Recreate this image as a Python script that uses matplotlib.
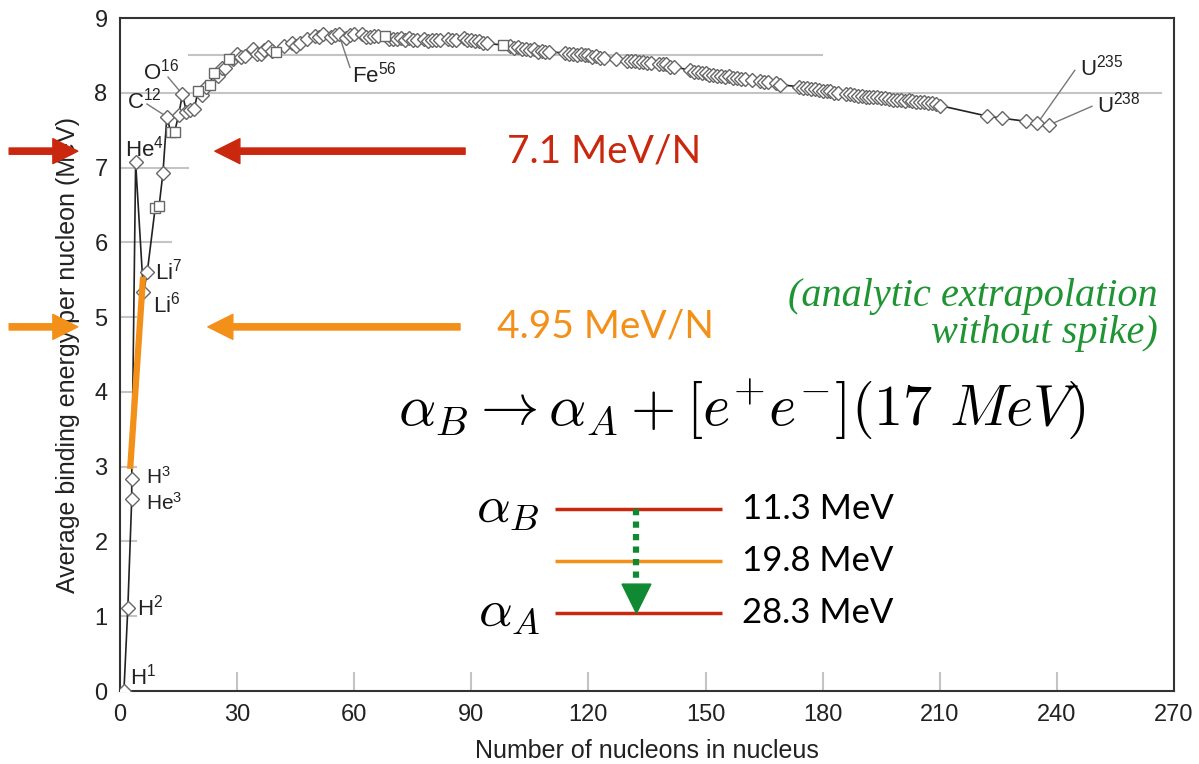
import matplotlib.pyplot as plt
from matplotlib.patches import FancyArrowPatch, Polygon

plt.rcParams['font.family'] = ['Liberation Sans', 'DejaVu Sans']
plt.rcParams['mathtext.fontset'] = 'custom'
plt.rcParams['mathtext.rm'] = 'Liberation Sans'
plt.rcParams['mathtext.it'] = 'Liberation Sans:italic'

# nucleon number A and binding energy per nucleon (MeV)
A = [1, 2, 3, 3, 4, 6, 7, 9, 10, 11, 12, 13, 14, 15, 16, 17, 18, 19, 20, 21,
     22, 23, 24, 25, 26, 27, 28, 29, 30, 31, 32, 34, 35, 36, 37, 38, 39, 40,
     42, 44, 45, 46, 48, 50, 51, 52, 54, 55, 56, 58, 59, 60, 62, 63, 64, 65,
     66, 68, 69, 70, 71, 72, 73, 74, 75, 76, 78, 79, 80, 81, 82, 84, 85, 86,
     88, 89, 90, 91, 92, 93, 94, 98, 100, 101, 102, 103, 104, 105, 106, 107,
     108, 109, 110, 114, 115, 116, 117, 118, 119, 120, 121, 122, 123, 124,
     127, 130, 131, 132, 133, 134, 135, 136, 138, 139, 140, 141, 142, 146,
     147, 148, 149, 150, 151, 152, 153, 154, 155, 156, 157, 158, 159, 160,
     162, 164, 165, 166, 168, 169, 174, 175, 176, 177, 178, 179, 180, 181,
     182, 183, 184, 186, 187, 188, 189, 190, 191, 192, 193, 194, 195, 196,
     197, 198, 199, 200, 201, 202, 203, 204, 205, 206, 207, 208, 209, 210,
     222, 226, 232, 235, 238]
BE = [0.00, 1.11, 2.57, 2.83, 7.07, 5.33, 5.61, 6.46, 6.48, 6.93, 7.68, 7.47,
      7.48, 7.70, 7.98, 7.75, 7.77, 7.78, 8.03, 7.97, 8.08, 8.11, 8.26, 8.22,
      8.33, 8.33, 8.45, 8.45, 8.52, 8.48, 8.49, 8.58, 8.52, 8.52, 8.57, 8.61,
      8.56, 8.55, 8.62, 8.66, 8.62, 8.66, 8.72, 8.76, 8.74, 8.78, 8.74, 8.77,
      8.79, 8.73, 8.77, 8.78, 8.79, 8.75, 8.74, 8.76, 8.76, 8.76, 8.72, 8.72,
      8.72, 8.73, 8.71, 8.73, 8.70, 8.71, 8.72, 8.69, 8.71, 8.70, 8.71, 8.72,
      8.70, 8.71, 8.73, 8.71, 8.71, 8.69, 8.69, 8.66, 8.66, 8.64, 8.62, 8.60,
      8.61, 8.58, 8.58, 8.57, 8.58, 8.55, 8.56, 8.55, 8.55, 8.53, 8.52, 8.52,
      8.51, 8.52, 8.50, 8.50, 8.48, 8.49, 8.47, 8.47, 8.45, 8.43, 8.42, 8.43,
      8.41, 8.41, 8.40, 8.40, 8.39, 8.38, 8.38, 8.35, 8.35, 8.30, 8.28, 8.28,
      8.26, 8.26, 8.24, 8.24, 8.23, 8.23, 8.21, 8.22, 8.20, 8.20, 8.19, 8.18,
      8.17, 8.16, 8.15, 8.14, 8.13, 8.11, 8.08, 8.07, 8.06, 8.05, 8.05, 8.04,
      8.03, 8.02, 8.02, 8.00, 8.00, 7.99, 7.98, 7.97, 7.96, 7.96, 7.95, 7.95,
      7.94, 7.94, 7.93, 7.93, 7.92, 7.91, 7.90, 7.90, 7.89, 7.90, 7.89, 7.88,
      7.88, 7.88, 7.87, 7.87, 7.85, 7.83, 7.69, 7.66, 7.62, 7.59, 7.57]
square_A = [9, 10, 13, 14, 20, 23, 24, 28, 40, 68, 98]

level_E = [11.3, 19.8, 28.3]
level_names = [r'$\alpha_B$', '', r'$\alpha_A$']

RED = '#c9280f'
ORANGE = '#f39019'
GREEN = '#0f8a32'

fig = plt.figure(figsize=(11.99, 7.64), dpi=100)
ax = fig.add_axes([0.1001, 0.0955, 0.879, 0.8809])
ax.set_xlim(0, 270)
ax.set_ylim(0, 9)

# partial grey guide lines
grid = '#c4c4c4'
ax.hlines(8.5, 17.4, 180, color=grid, lw=1.5, zorder=1)
ax.hlines(8, 0, 267, color=grid, lw=1.5, zorder=1)
ax.hlines(7, 0, 17.7, color=grid, lw=1.5, zorder=1)
ax.hlines(6, 0, 13.3, color=grid, lw=1.5, zorder=1)
ax.hlines([1, 2, 3, 4, 5], 0, 4.3, color=grid, lw=1.5, zorder=1)
ax.vlines(range(30, 270, 30), 0, 0.25, color=grid, lw=1.5, zorder=1)

for s in ax.spines.values():
    s.set_color('#333333')
    s.set_linewidth(1.5)

ax.set_xticks(range(0, 271, 30))
ax.set_yticks(range(0, 10))
ax.tick_params(length=0, labelsize=17, labelcolor='#222222', pad=9)
ax.set_xlabel('Number of nucleons in nucleus', fontsize=18, color='#222222', labelpad=10)
ax.set_ylabel('Average binding energy per nucleon (MeV)', fontsize=18, color='#222222', labelpad=10)

# curve
ax.plot(A, BE, color='#222222', lw=1.2, zorder=3)
dA = [a for a in A if a not in square_A or a > 100]
dB = [b for a, b in zip(A, BE) if a not in square_A or a > 100]
sA = [a for a in A if a in square_A]
sB = [b for a, b in zip(A, BE) if a in square_A]
ax.plot(dA, dB, ls='none', marker='D', ms=7, mfc='white', mec='#666666', mew=1, zorder=4)
ax.plot(sA, sB, ls='none', marker='s', ms=7.5, mfc='white', mec='#666666', mew=1, zorder=4)

# nuclide labels
lab = dict(fontsize=16, color='#222222', va='center', ha='left', zorder=6)
ax.text(2.6, 0.20, 'H$^{1}$', **lab)
ax.text(4.4, 1.11, 'H$^{2}$', **lab)
ax.text(6.7, 2.86, 'H$^{3}$', fontsize=15, color='#222222', va='center', ha='left', zorder=6)
ax.text(6.7, 2.52, 'He$^{3}$', fontsize=15, color='#222222', va='center', ha='left', zorder=6)
ax.text(1.3, 7.26, 'He$^{4}$', **lab)
ax.text(8.5, 5.17, 'Li$^{6}$', **lab)
ax.text(9.0, 5.61, 'Li$^{7}$', **lab)
lead = dict(color='#777777', lw=1)
ax.text(1.8, 7.90, 'C$^{12}$', **lab)
ax.plot([6.9, 12], [7.85, 7.68], **lead)
ax.text(5.9, 8.28, 'O$^{16}$', **lab)
ax.plot([12.3, 16], [8.21, 7.98], **lead)
ax.text(59.4, 8.24, 'Fe$^{56}$', **lab)
ax.plot([58.9, 56], [8.34, 8.79], **lead)
ax.text(245.9, 8.34, 'U$^{235}$', **lab)
ax.plot([244.6, 235], [8.30, 7.59], **lead)
ax.text(250.3, 7.84, 'U$^{238}$', **lab)
ax.plot([249, 238], [7.82, 7.57], **lead)

# orange analytic extrapolation
ax.plot([2.6, 5.9], [2.97, 5.54], color=ORANGE, lw=4.5, solid_capstyle='butt', zorder=5)


def arrow(x0, x1, y, color):
    p = FancyArrowPatch((x0, y), (x1, y), transform=ax.transData,
                        arrowstyle='simple,head_length=1.8,head_width=1.8,tail_width=0.45',
                        mutation_scale=10, color=color, clip_on=False,
                        shrinkA=0, shrinkB=0, zorder=7)
    ax.add_patch(p)


arrow(-28.4, -10.8, 7.22, RED)
arrow(88.4, 24.3, 7.22, RED)
arrow(-28.4, -10.8, 4.87, ORANGE)
arrow(87.1, 22.5, 4.87, ORANGE)

big = dict(family=['Lato', 'DejaVu Sans'], fontsize=28, va='center', ha='left')
ax.text(99.1, 7.22, '7.1 MeV/N', color=RED, **big)
ax.text(96.6, 4.87, '4.95 MeV/N', color=ORANGE, **big)

ax.text(265.9, 5.03, '(analytic extrapolation\nwithout spike)', color='#1f9433',
        family='Liberation Serif', style='italic', fontsize=29, ha='right',
        va='center', multialignment='right', linespacing=1.0)

ax.text(71.2, 3.76, r'$\alpha_B \rightarrow \alpha_A + [e^{+}e^{-}](17\ MeV)$',
        fontsize=42, math_fontfamily='cm', va='center', ha='left', color='black')

# level scheme
lvl_y = [2.43 - (e - level_E[0]) * 0.0818 for e in level_E]
lvl_c = [RED, ORANGE, RED]
for e, y, c, name in zip(level_E, lvl_y, lvl_c, level_names):
    ax.hlines(y, 111.4, 154.2, color=c, lw=2.5, zorder=5)
    ax.text(159.3, y, f'{e:.1f} MeV', family=['Lato', 'DejaVu Sans'], fontsize=25,
            va='center', ha='left', color='black')
    if name:
        ax.text(107.6, y + 0.02, name, fontsize=38, math_fontfamily='cm',
                va='center', ha='right', color='black')

ax.plot([132.3, 132.3], [lvl_y[0], 1.45], color=GREEN, lw=4.5,
        ls=(0, (1, 1)), solid_capstyle='butt', dash_capstyle='butt', zorder=6)
ax.add_patch(Polygon([(128.6, 1.43), (136.0, 1.43), (132.3, lvl_y[2])],
                     closed=True, color=GREEN, zorder=6))

fig.savefig('out.png', dpi=100)
